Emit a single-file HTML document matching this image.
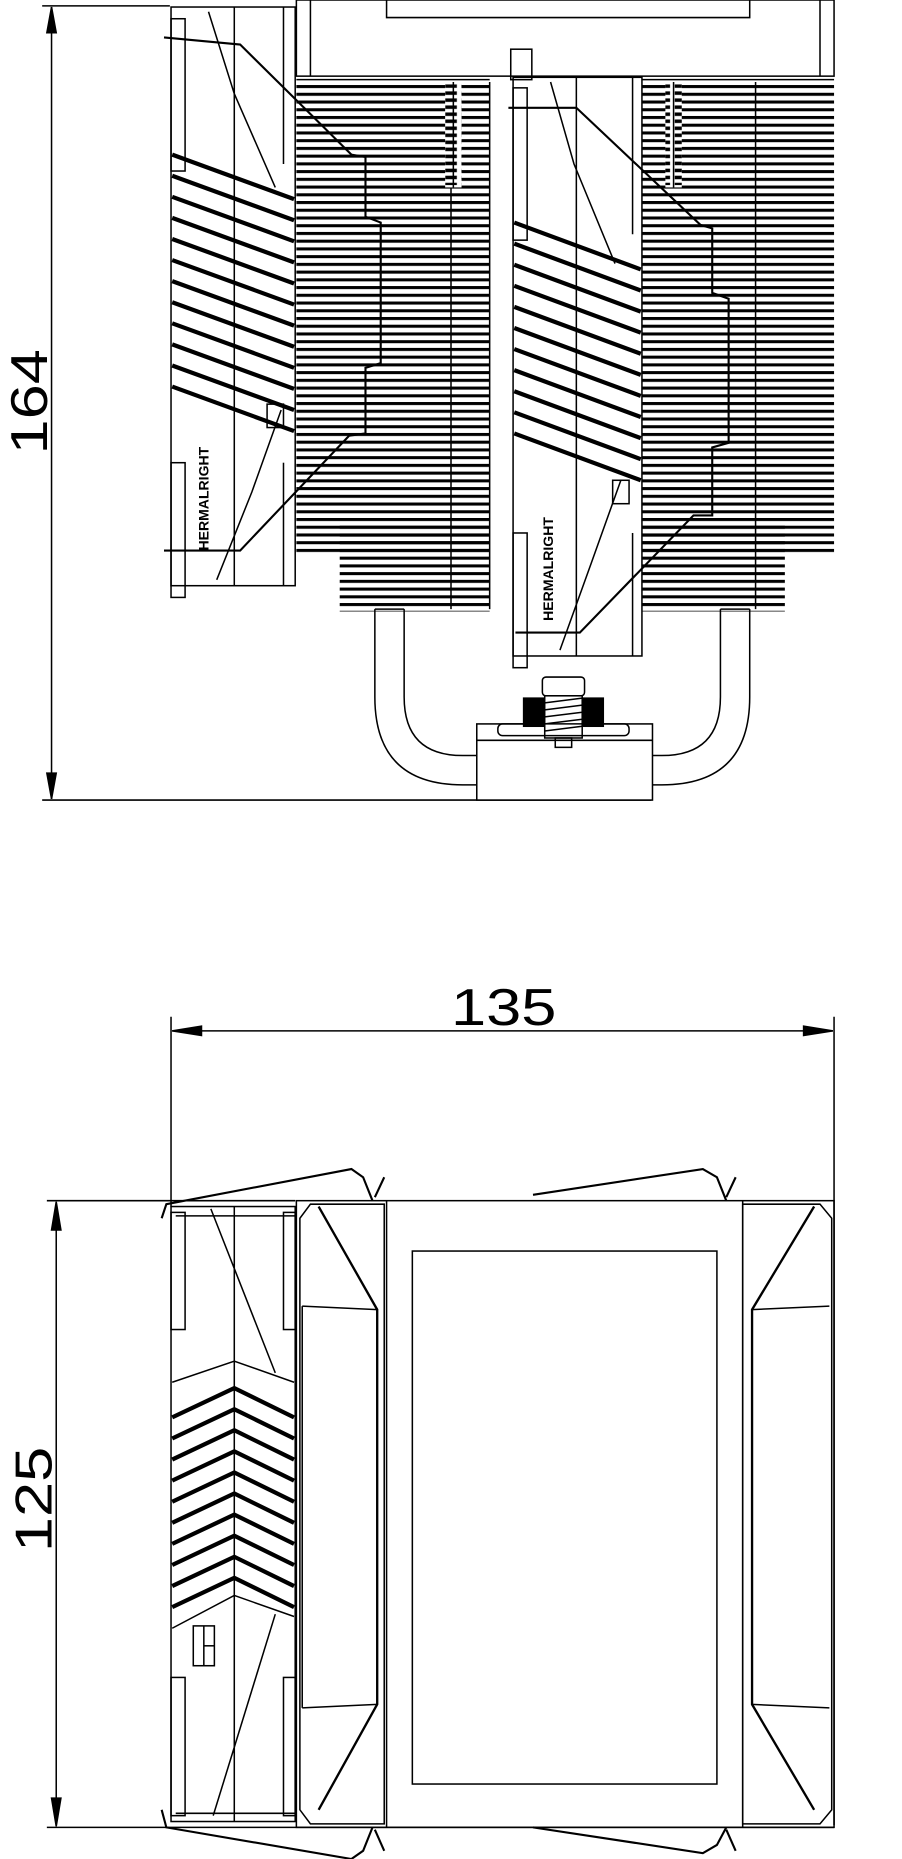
<!DOCTYPE html>
<html><head><meta charset="utf-8"><style>
html,body{margin:0;padding:0;background:#fff;}
svg{display:block;}
</style></head><body>
<svg width="902" height="1859" viewBox="0 0 770 1587" preserveAspectRatio="none" xmlns="http://www.w3.org/2000/svg">
<defs>
<pattern id="fins" patternUnits="userSpaceOnUse" width="10" height="6.6">
<rect x="0" y="0" width="10" height="2.6" fill="#000"/>
</pattern>
<pattern id="screw" patternUnits="userSpaceOnUse" width="14" height="6">
<rect x="2" y="0" width="10" height="3" fill="#000"/>
</pattern>
</defs>
<g fill="none" stroke="#000" stroke-width="1.3">

<!-- ===== TOP VIEW ===== -->
<line x1="36" y1="5" x2="145" y2="5"/>
<line x1="36" y1="683" x2="556" y2="683"/>
<line x1="44" y1="6" x2="44" y2="682"/>
<polygon points="44,6 40,28 48,28" fill="#000"/>
<polygon points="44,682 40,660 48,660" fill="#000"/>

<rect x="253" y="0" width="459" height="65"/>
<line x1="265" y1="0" x2="265" y2="65"/>
<line x1="700" y1="0" x2="700" y2="65"/>
<polyline points="330,0 330,15 640,15 640,0"/>

<rect x="253" y="70" width="165" height="402" fill="url(#fins)" stroke="none"/>
<rect x="290" y="446" width="128" height="76" fill="url(#fins)" stroke="none"/>
<rect x="548" y="70" width="164" height="402" fill="url(#fins)" stroke="none"/>
<rect x="548" y="446" width="122" height="76" fill="url(#fins)" stroke="none"/>
<line x1="385" y1="70" x2="385" y2="520"/>
<line x1="418" y1="70" x2="418" y2="520"/>
<line x1="645" y1="70" x2="645" y2="520"/>
<rect x="380" y="70" width="14" height="90" fill="#fff" stroke="none"/>
<rect x="380" y="72" width="14" height="86" fill="url(#screw)" stroke="none"/>
<line x1="387" y1="70" x2="387" y2="160"/>
<rect x="568" y="70" width="14" height="90" fill="#fff" stroke="none"/>
<rect x="568" y="72" width="14" height="86" fill="url(#screw)" stroke="none"/>
<line x1="575" y1="70" x2="575" y2="160"/>
<line x1="253" y1="68" x2="418" y2="68"/>
<line x1="548" y1="68" x2="712" y2="68"/>

<!-- left fan -->
<rect x="146" y="6" width="106" height="494" fill="#fff"/>
<line x1="200" y1="6" x2="200" y2="500"/>
<line x1="242" y1="6" x2="242" y2="140"/>
<line x1="242" y1="395" x2="242" y2="500"/>
<rect x="146" y="16" width="12" height="130"/>
<rect x="146" y="395" width="12" height="115"/>
<g stroke-width="3.6">
<line x1="147" y1="132" x2="251" y2="170"/>
<line x1="147" y1="150" x2="251" y2="188"/>
<line x1="147" y1="168" x2="251" y2="206"/>
<line x1="147" y1="186" x2="251" y2="224"/>
<line x1="147" y1="204" x2="251" y2="242"/>
<line x1="147" y1="222" x2="251" y2="260"/>
<line x1="147" y1="240" x2="251" y2="278"/>
<line x1="147" y1="258" x2="251" y2="296"/>
<line x1="147" y1="276" x2="251" y2="314"/>
<line x1="147" y1="294" x2="251" y2="332"/>
<line x1="147" y1="312" x2="251" y2="350"/>
<line x1="147" y1="330" x2="251" y2="368"/>
</g>
<polyline points="178,10 200,80 235,160"/>
<polyline points="240,350 215,420 185,495"/>
<rect x="228" y="345" width="14" height="20"/>
<text x="0" y="0" transform="translate(178,470) rotate(-90)" font-family="Liberation Sans, sans-serif" font-weight="bold" font-size="12" fill="#000" stroke="none">HERMALRIGHT</text>
<polyline stroke-width="1.8" points="140,32 205,38 300,132 312,134 312,185 325,190 325,310 312,314 312,370 298,372 205,470 140,470"/>

<!-- center fan -->
<rect x="438" y="66" width="110" height="494" fill="#fff"/>
<line x1="492" y1="66" x2="492" y2="560"/>
<line x1="540" y1="66" x2="540" y2="200"/>
<line x1="540" y1="455" x2="540" y2="560"/>
<rect x="438" y="75" width="12" height="130"/>
<rect x="438" y="455" width="12" height="115"/>
<rect x="436" y="42" width="18" height="26"/>
<g stroke-width="3.6">
<line x1="439" y1="190" x2="547" y2="230"/>
<line x1="439" y1="208" x2="547" y2="248"/>
<line x1="439" y1="226" x2="547" y2="266"/>
<line x1="439" y1="244" x2="547" y2="284"/>
<line x1="439" y1="262" x2="547" y2="302"/>
<line x1="439" y1="280" x2="547" y2="320"/>
<line x1="439" y1="298" x2="547" y2="338"/>
<line x1="439" y1="316" x2="547" y2="356"/>
<line x1="439" y1="334" x2="547" y2="374"/>
<line x1="439" y1="352" x2="547" y2="392"/>
<line x1="439" y1="370" x2="547" y2="410"/>
</g>
<polyline points="470,70 490,140 525,225"/>
<polyline points="530,410 505,480 478,555"/>
<rect x="523" y="410" width="14" height="20"/>
<text x="0" y="0" transform="translate(472,530) rotate(-90)" font-family="Liberation Sans, sans-serif" font-weight="bold" font-size="12" fill="#000" stroke="none">HERMALRIGHT</text>
<polyline stroke-width="1.8" points="434,92 492,92 598,192 608,195 608,250 622,255 622,378 608,382 608,440 592,440 495,540 440,540"/>

<!-- heatpipes -->
<path d="M320,520 V595 Q320,670 395,670 H407"/>
<path d="M345,520 V595 Q345,645 395,645 H407"/>
<path d="M640,520 V595 Q640,670 565,670 H557"/>
<path d="M615,520 V595 Q615,645 565,645 H557"/>
<line x1="320" y1="520" x2="345" y2="520"/>
<line x1="615" y1="520" x2="640" y2="520"/>
<rect x="407" y="618" width="150" height="65" fill="#fff"/>
<line x1="407" y1="632" x2="557" y2="632"/>
<rect x="463" y="578" width="36" height="16" rx="3"/>
<rect x="447" y="596" width="68" height="24" fill="#000"/>
<rect x="465" y="594" width="32" height="36" fill="#fff"/>
<line x1="465" y1="600" x2="497" y2="596"/>
<line x1="465" y1="606" x2="497" y2="602"/>
<line x1="465" y1="612" x2="497" y2="608"/>
<line x1="465" y1="618" x2="497" y2="614"/>
<line x1="465" y1="624" x2="497" y2="620"/>
<rect x="425" y="618" width="112" height="10" rx="4"/>
<rect x="474" y="630" width="14" height="8"/>

<!-- ===== FRONT VIEW ===== -->
<line x1="146" y1="868" x2="146" y2="1030"/>
<line x1="712" y1="868" x2="712" y2="1558"/>
<line x1="147" y1="880" x2="711" y2="880"/>
<polygon points="147,880 172,876 172,884" fill="#000"/>
<polygon points="711,880 686,876 686,884" fill="#000"/>
<line x1="40" y1="1025" x2="252" y2="1025"/>
<line x1="40" y1="1560" x2="712" y2="1560"/>
<line x1="48" y1="1026" x2="48" y2="1559"/>
<polygon points="48,1026 44,1050 52,1050" fill="#000"/>
<polygon points="48,1559 44,1535 52,1535" fill="#000"/>

<rect x="253" y="1025" width="459" height="535"/>
<line x1="330" y1="1025" x2="330" y2="1560"/>
<line x1="634" y1="1025" x2="634" y2="1560"/>
<rect x="352" y="1068" width="260" height="455"/>
<polygon points="265,1028 328,1028 328,1557 265,1557 256,1545 256,1040"/>
<polyline stroke-width="2" points="272,1030 322,1118 322,1455 272,1545"/>
<polyline points="258,1115 322,1118"/>
<polyline points="258,1458 322,1455"/>
<line x1="258" y1="1115" x2="258" y2="1458"/>
<polygon points="634,1028 700,1028 710,1040 710,1545 700,1557 634,1557"/>
<polyline stroke-width="2" points="695,1030 642,1118 642,1455 695,1545"/>
<polyline points="642,1118 708,1115"/>
<polyline points="642,1455 708,1458"/>

<rect x="146" y="1030" width="106" height="525" fill="#fff"/>
<line x1="200" y1="1030" x2="200" y2="1555"/>
<rect x="146" y="1035" width="12" height="100"/>
<rect x="146" y="1432" width="12" height="118"/>
<line x1="150" y1="1038" x2="252" y2="1038"/>
<line x1="150" y1="1548" x2="252" y2="1548"/>
<rect x="242" y="1035" width="10" height="100"/>
<rect x="242" y="1432" width="10" height="118"/>
<g stroke-width="3.6">
<polyline points="147,1210 200,1185 251,1210"/>
<polyline points="147,1228 200,1203 251,1228"/>
<polyline points="147,1246 200,1221 251,1246"/>
<polyline points="147,1264 200,1239 251,1264"/>
<polyline points="147,1282 200,1257 251,1282"/>
<polyline points="147,1300 200,1275 251,1300"/>
<polyline points="147,1318 200,1293 251,1318"/>
<polyline points="147,1336 200,1311 251,1336"/>
<polyline points="147,1354 200,1329 251,1354"/>
<polyline points="147,1372 200,1347 251,1372"/>
</g>
<polyline points="147,1390 200,1362 251,1380"/>
<polyline points="147,1180 200,1162 251,1180"/>
<line x1="180" y1="1032" x2="235" y2="1172"/>
<line x1="235" y1="1378" x2="182" y2="1550"/>
<rect x="165" y="1388" width="18" height="34"/>
<line x1="174" y1="1388" x2="174" y2="1422"/>
<line x1="174" y1="1405" x2="183" y2="1405"/>

<g stroke-width="1.8">
<polyline points="138,1040 142,1028 300,998 310,1005 318,1025"/>
<polyline points="455,1020 600,998 612,1005 620,1025"/>
<line x1="320" y1="1022" x2="328" y2="1005"/>
<line x1="620" y1="1022" x2="628" y2="1005"/>
<polyline points="138,1545 142,1560 300,1587 310,1580 318,1560"/>
<polyline points="455,1560 600,1582 612,1575 620,1560"/>
<line x1="320" y1="1562" x2="328" y2="1580"/>
<line x1="620" y1="1562" x2="628" y2="1580"/>
</g>
</g>

<text x="0" y="0" transform="translate(40,388) rotate(-90)" font-family="Liberation Sans, sans-serif" font-size="44" fill="#000" textLength="90" lengthAdjust="spacingAndGlyphs">164</text>
<text x="385" y="875" font-family="Liberation Sans, sans-serif" font-size="44" fill="#000" textLength="90" lengthAdjust="spacingAndGlyphs">135</text>
<text x="0" y="0" transform="translate(44,1325) rotate(-90)" font-family="Liberation Sans, sans-serif" font-size="44" fill="#000" textLength="90" lengthAdjust="spacingAndGlyphs">125</text>
</svg>
</body></html>
